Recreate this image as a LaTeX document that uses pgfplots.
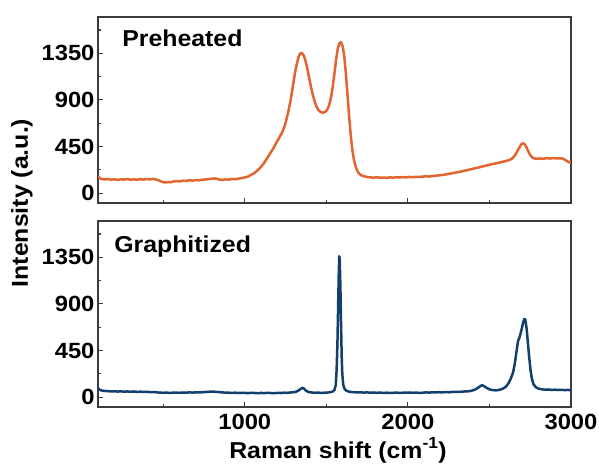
\documentclass[border=0pt]{standalone}
\usepackage{pgfplots}
\pgfplotsset{compat=1.18}
\usepackage{fontspec}
\setmainfont{Liberation Sans}[FakeStretch=1.08]

\definecolor{preheat}{RGB}{226,100,48}
\definecolor{graphit}{RGB}{19,63,110}
\definecolor{frame}{RGB}{60,60,60}

\pgfplotsset{
  ramanpanel/.style={
    scale only axis,
    width=473pt, height=186pt,
    xmin=100, xmax=3000,
    ymin=-95, ymax=1700,
    xtick={1000,2000,3000},
    minor xtick={500,1500,2500},
    ytick={0,450,900,1350},
    minor ytick={225,675,1125,1575},
    tick align=inside,
    xtick pos=bottom, ytick pos=left,
    major tick length=5pt, minor tick length=3pt,
    axis line style={line width=1.3pt, frame},
    every tick/.style={line width=1.2pt, frame},
    /pgf/number format/assume math mode=true,
    /pgf/number format/1000 sep={},
    scaled ticks=false,
    tick label style={font=\fontsize{22}{22}\selectfont\bfseries, text=black},
    x tick label style={yshift=-4pt},
    clip=true,
  },
}

\begin{document}
\begin{tikzpicture}
\useasboundingbox (-98pt,-56pt) rectangle (501pt,407pt);

% Preheated sample
\begin{axis}[ramanpanel, at={(0pt,204pt)}, anchor=south west, xticklabels={}]
\addplot[preheat, line width=2.5pt, line join=round] coordinates {
(100,165) (110,145) (120,138) (140,132) (160,136) (180,130) (200,134) (220,128)
(240,133) (260,131) (280,136) (300,129) (320,133) (340,130) (360,135) (380,131)
(400,136) (420,133) (440,138) (455,132) (470,125) (485,114) (500,106) (515,103)
(530,108) (545,105) (560,112) (580,116) (600,113) (620,120) (640,118) (660,124)
(680,121) (700,127) (720,124) (740,130) (760,132) (780,136) (800,140) (815,142)
(830,138) (845,131) (860,128) (880,133) (900,130) (920,136) (940,134) (960,140)
(980,145) (1000,152) (1020,160) (1040,178) (1060,195) (1080,222) (1100,255)
(1120,295) (1140,345) (1160,395) (1180,445) (1200,505) (1215,545) (1230,590)
(1245,650) (1260,740) (1270,810) (1280,890) (1290,985) (1300,1085) (1310,1180)
(1320,1255) (1330,1315) (1340,1348) (1350,1352) (1360,1332) (1370,1290)
(1380,1225) (1390,1150) (1400,1070) (1410,995) (1420,930) (1430,875) (1440,835)
(1450,805) (1460,788) (1470,780) (1480,776) (1490,782) (1500,795) (1510,820)
(1520,865) (1530,935) (1540,1035) (1550,1160) (1560,1290) (1570,1395)
(1580,1448) (1590,1455) (1600,1418) (1610,1320) (1620,1150) (1630,945)
(1640,735) (1650,550) (1660,410) (1670,315) (1680,255) (1690,215) (1700,190)
(1715,172) (1730,163) (1750,156) (1770,152) (1790,150) (1810,153) (1830,149)
(1850,151) (1870,148) (1890,152) (1910,150) (1930,154) (1950,151) (1970,155)
(1990,152) (2010,157) (2030,154) (2050,158) (2070,156) (2090,160) (2110,162)
(2130,160) (2150,165) (2170,168) (2190,172) (2210,175) (2230,180) (2250,186)
(2270,192) (2290,198) (2310,204) (2330,210) (2350,218) (2370,224) (2390,232)
(2410,240) (2430,246) (2450,255) (2470,262) (2490,270) (2510,278) (2530,284)
(2550,291) (2570,298) (2590,306) (2610,314) (2625,322) (2640,336) (2655,362)
(2670,402) (2685,445) (2697,474) (2708,482) (2718,468) (2728,438) (2738,404)
(2750,368) (2762,346) (2775,336) (2790,331) (2810,335) (2830,332) (2850,338)
(2870,334) (2890,338) (2910,335) (2930,337) (2950,333) (2965,320) (2980,305)
(2990,298) (3000,292)
};
\node[anchor=base west, font=\fontsize{23}{23}\selectfont\bfseries]
  at (rel axis cs:0.044,0.844) {Preheated};
\end{axis}

% Graphitized sample
\begin{axis}[ramanpanel, at={(0pt,0pt)}, anchor=south west]
\addplot[graphit, line width=2.5pt, line join=round] coordinates {
(100,88) (110,72) (120,65) (140,60) (160,58) (180,55) (200,57) (220,54)
(240,56) (260,53) (280,55) (300,52) (320,55) (340,51) (360,53) (380,50)
(400,52) (420,48) (440,50) (460,46) (480,44) (500,42) (520,44) (540,41)
(560,43) (580,44) (600,42) (620,45) (640,43) (660,46) (680,44) (700,47)
(720,45) (740,48) (760,50) (780,52) (800,54) (820,52) (840,49) (860,46)
(880,44) (900,43) (920,41) (940,43) (960,40) (980,42) (1000,41) (1020,39)
(1040,42) (1060,40) (1080,38) (1100,41) (1120,39) (1140,42) (1160,40)
(1180,38) (1200,41) (1220,40) (1240,43) (1260,42) (1280,45) (1300,48)
(1315,53) (1330,65) (1345,82) (1355,90) (1365,80) (1375,62) (1390,50)
(1410,45) (1430,42) (1450,44) (1470,41) (1490,43) (1510,45) (1525,48)
(1540,55) (1550,70) (1558,120) (1563,260) (1568,520) (1572,850) (1576,1180)
(1579,1360) (1582,1330) (1586,1080) (1590,720) (1594,400) (1598,220)
(1603,125) (1610,85) (1620,65) (1635,55) (1650,50) (1670,48) (1690,45)
(1710,47) (1730,44) (1750,46) (1770,43) (1790,45) (1810,42) (1830,44)
(1850,41) (1870,43) (1890,40) (1910,42) (1930,44) (1950,41) (1970,43)
(2010,45) (2030,42) (2050,44) (2070,41) (2090,43) (2110,46) (2130,44)
(2150,47) (2170,45) (2190,48) (2210,46) (2230,49) (2250,47) (2270,50)
(2290,52) (2310,50) (2330,53) (2350,55) (2370,56) (2390,62) (2410,72)
(2430,90) (2445,108) (2455,115) (2465,108) (2480,92) (2500,75) (2520,68)
(2540,66) (2560,70) (2580,80) (2600,100) (2615,130) (2630,175) (2645,240)
(2655,320) (2665,430) (2675,540) (2685,580) (2695,640) (2705,710) (2713,755)
(2720,750) (2728,660) (2736,520) (2744,380) (2752,260) (2760,180) (2770,125)
(2785,95) (2800,82) (2820,76) (2840,72) (2860,74) (2880,70) (2900,72)
(2920,69) (2940,71) (2960,68) (2980,70) (3000,66)
};
\node[anchor=base west, font=\fontsize{23}{23}\selectfont\bfseries]
  at (rel axis cs:0.027,0.833) {Graphitized};
\end{axis}

% shared axis titles
\node[rotate=90, font=\fontsize{23}{23}\selectfont\bfseries, text=black]
  at (-76pt,204pt) {Intensity (a.u.)};
\node[anchor=base, font=\fontsize{23}{23}\selectfont\bfseries, text=black]
  at (240pt,-51pt) {Raman shift (cm\textsuperscript{-1})};
\end{tikzpicture}
\end{document}
